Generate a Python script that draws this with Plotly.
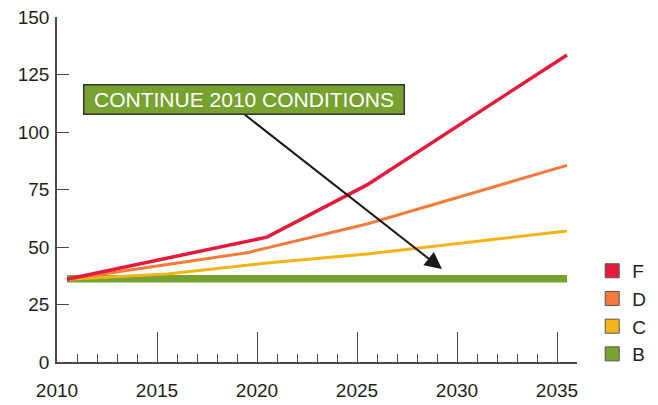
import plotly.graph_objects as go

# Data
years_F = [2010.5, 2020.5, 2025.5, 2035.5]
vals_F = [36, 54.3, 77, 133.5]
years_D = [2010.5, 2019.5, 2025.5, 2035.5]
vals_D = [36, 47.5, 60, 85.5]
years_C = [2010.5, 2015.5, 2020.5, 2025.5, 2035.5]
vals_C = [36, 38.3, 43, 47, 57]
years_B = [2010.5, 2035.5]
vals_B = [36.2, 36.2]

x_ticks = [2010, 2015, 2020, 2025, 2030, 2035]
y_ticks = [0, 25, 50, 75, 100, 125, 150]

series = [
    ("B", years_B, vals_B, "#77a22f", 7.5),
    ("C", years_C, vals_C, "#f4b316", 3),
    ("D", years_D, vals_D, "#f47b3a", 3),
    ("F", years_F, vals_F, "#e61a3d", 3.5),
]

fig = go.Figure()
for name, xs, ys, col, w in series:
    fig.add_trace(go.Scatter(x=xs, y=ys, mode="lines", name=name,
                             line=dict(color=col, width=w), showlegend=False))

# legend entries (square swatches), top to bottom F, D, C, B
for name, xs, ys, col, w in reversed(series):
    fig.add_trace(go.Scatter(x=[None], y=[None], mode="markers", name=name,
                             marker=dict(symbol="square", size=14, color=col,
                                         line=dict(color="#555555", width=1))))

axis_col = "#4a4a4a"
font_fam = "Liberation Sans, Arial, sans-serif"

fig.update_layout(
    width=658, height=405,
    margin=dict(l=57, r=81, t=17, b=43, autoexpand=False),
    paper_bgcolor="white", plot_bgcolor="white",
    font=dict(family=font_fam, size=19, color="#231f20"),
    showlegend=True,
    legend=dict(xref="container", yref="container", x=0.9, xanchor="left",
                y=0.378, yanchor="top",
                font=dict(size=19), bgcolor="rgba(0,0,0,0)",
                traceorder="normal", itemwidth=30),
)

fig.update_xaxes(
    range=[2010, 2036], tickvals=x_ticks, ticktext=[str(v) for v in x_ticks],
    showgrid=False, zeroline=False, showline=True, linecolor=axis_col, linewidth=1.5,
    ticks="inside", ticklen=30, tickwidth=1.2, tickcolor=axis_col,
    ticklabelstandoff=10, automargin=False,
    minor=dict(dtick=1, tick0=2010, ticks="inside", ticklen=8, tickwidth=1.2,
               tickcolor=axis_col, showgrid=False),
)
fig.update_yaxes(
    range=[0, 150], tickvals=y_ticks,
    showgrid=False, zeroline=False, showline=True, linecolor=axis_col, linewidth=1.5,
    ticks="inside", ticklen=12, tickwidth=1.2, tickcolor=axis_col,
    ticklabelstandoff=2, automargin=False,
)

# Arrow
fig.add_annotation(x=2029.25, y=40.4, ax=2019.1, ay=109.5, axref="x", ayref="y",
                   xref="x", yref="y", text="", showarrow=True,
                   arrowhead=2, arrowsize=1.7, arrowwidth=2, arrowcolor="#1a1a1a")
# Label box
fig.add_annotation(x=2019.35, y=114.35, xref="x", yref="y",
                   text="CONTINUE 2010 CONDITIONS", showarrow=False,
                   font=dict(family=font_fam, size=21, color="white"),
                   bgcolor="#77a22f", bordercolor="#333333", borderwidth=1.5,
                   borderpad=2, width=315, height=24)

fig.write_html("out.html", config={"displayModeBar": False},
               post_script="document.body.style.margin='0';document.body.style.overflow='hidden';")
